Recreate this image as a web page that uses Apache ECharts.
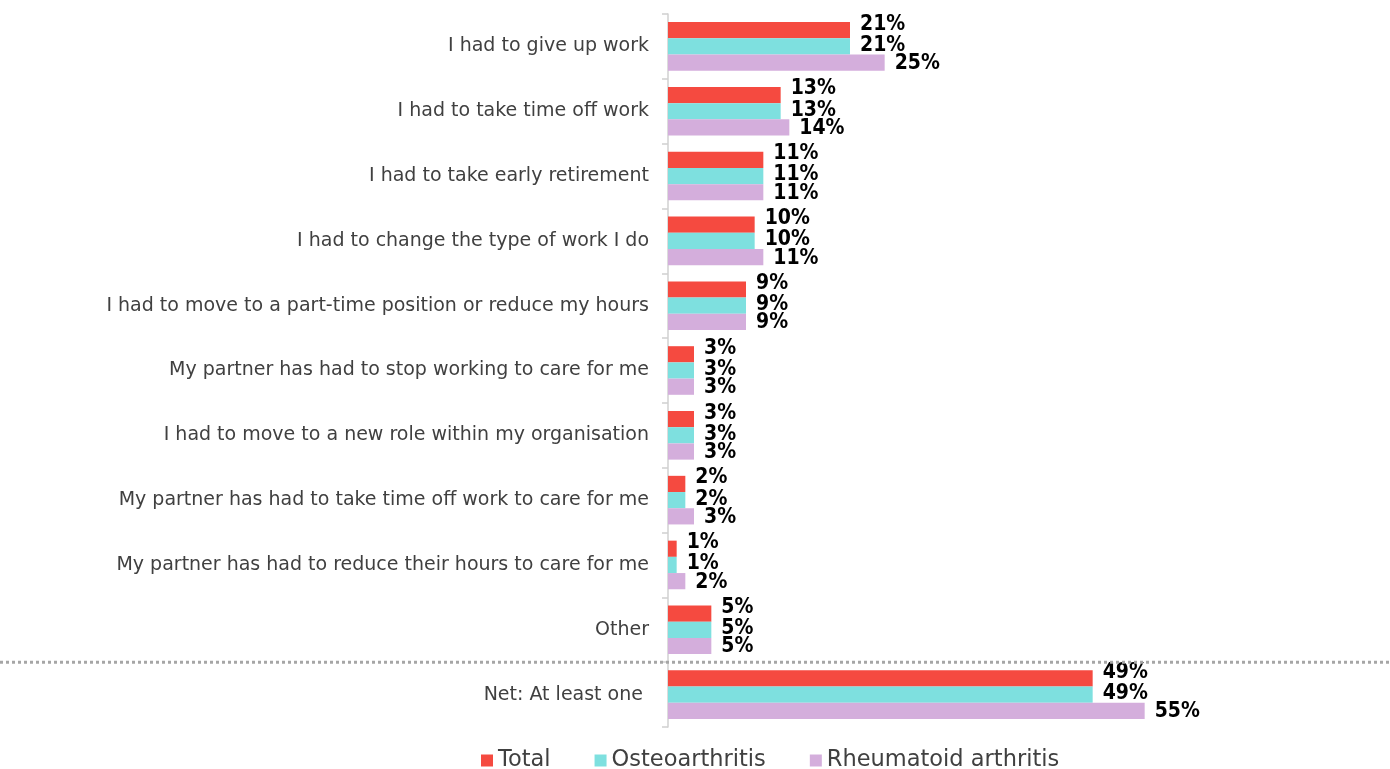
<!DOCTYPE html>
<html>
<head>
<meta charset="utf-8">
<script src="https://cdn.jsdelivr.net/npm/echarts@6/dist/echarts.min.js"></script>
<style>
  html, body { margin: 0; padding: 0; background: #fff; }
  #chart { width: 1390px; height: 769px; }
</style>
</head>
<body>
<div id="chart"></div>
<script>
// Work impact of arthritis, share of respondents (%)
const categories = [
  "I had to give up work",
  "I had to take time off work",
  "I had to take early retirement",
  "I had to change the type of work I do",
  "I had to move to a part-time position or reduce my hours",
  "My partner has had to stop working to care for me",
  "I had to move to a new role within my organisation",
  "My partner has had to take time off work to care for me",
  "My partner has had to reduce their hours to care for me",
  "Other",
  "Net: At least one "
];
const seriesNames = ["Total", "Osteoarthritis", "Rheumatoid arthritis"];
const totalValues = [21, 13, 11, 10, 9, 3, 3, 2, 1, 5, 49];
const osteoValues = [21, 13, 11, 10, 9, 3, 3, 2, 1, 5, 49];
const rheumValues = [25, 14, 11, 11, 9, 3, 3, 3, 2, 5, 55];

const colors = ["#F54A40", "#7EE0DF", "#D4AEDC"];
const FONT = "'DejaVu Sans', sans-serif";
const LABEL_FONT = "'DejaVu Sans Condensed', 'DejaVu Sans', sans-serif";

const chart = echarts.init(document.getElementById('chart'), null, { renderer: 'canvas' });

function makeSeries(name, values, color, dy) {
  return {
    name: name,
    type: 'bar',
    data: values,
    barGap: '0%',
    barCategoryGap: '25%',
    itemStyle: { color: color },
    label: {
      show: true,
      position: 'right',
      distance: 10,
      offset: [0, dy],
      formatter: '{c}%',
      color: '#000',
      fontFamily: LABEL_FONT,
      fontWeight: 'bold',
      fontSize: 21
    },
    emphasis: { disabled: true }
  };
}

const option = {
  animation: false,
  textStyle: { fontFamily: FONT },
  grid: { left: 668, right: 202, top: 14, bottom: 42, containLabel: false },
  xAxis: {
    type: 'value',
    min: 0,
    max: 60,
    show: false
  },
  yAxis: {
    type: 'category',
    data: categories,
    inverse: true,
    axisLine: { show: true, lineStyle: { color: '#d0d0d0', width: 1.5 } },
    axisTick: { show: true, length: 6, lineStyle: { color: '#d0d0d0', width: 1.5 } },
    axisLabel: { margin: 19, color: '#404040', fontSize: 19, fontFamily: FONT },
    splitLine: { show: false }
  },
  legend: {
    top: 744,
    left: 476,
    itemWidth: 12,
    itemHeight: 12,
    itemGap: 44,
    icon: 'rect',
    textStyle: { color: '#404040', fontSize: 22.5, fontFamily: FONT, padding: [0, 0, 0, 0] },
    data: seriesNames
  },
  series: [
    makeSeries(seriesNames[0], totalValues, colors[0], -6),
    makeSeries(seriesNames[1], osteoValues, colors[1], -1),
    makeSeries(seriesNames[2], rheumValues, colors[2], 1)
  ]
};
chart.setOption(option);

// Dotted divider separating the net row from the individual items
function drawDivider() {
  const yTop = chart.convertToPixel({ yAxisIndex: 0 }, categories[categories.length - 2]);
  const yBot = chart.convertToPixel({ yAxisIndex: 0 }, categories[categories.length - 1]);
  const y = (yTop + yBot) / 2;
  chart.setOption({
    graphic: [{
      type: 'line',
      shape: { x1: 0, y1: y, x2: 1390, y2: y },
      style: { stroke: '#a6a6a6', lineWidth: 3, lineDash: [3, 3] },
      z: 10
    }]
  });
}
drawDivider();
</script>
</body>
</html>
